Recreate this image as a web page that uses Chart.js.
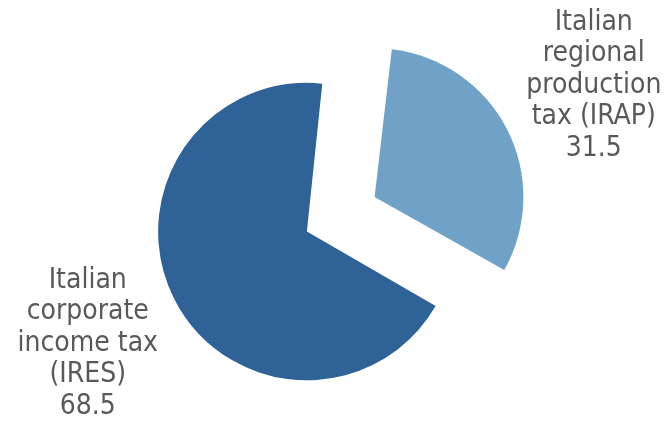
<!DOCTYPE html>
<html>
<head>
<meta charset="utf-8">
<script src="https://cdn.jsdelivr.net/npm/chart.js@4.4.1/dist/chart.umd.min.js"></script>
<style>
  html, body { margin: 0; padding: 0; background: #fff; }
  canvas { display: block; }
</style>
</head>
<body>
<canvas id="taxChart" width="666" height="423"></canvas>
<script>
// tax revenue split, per cent
const categories = [
  ["Italian", "regional", "production", "tax (IRAP)"],
  ["Italian", "corporate", "income tax", "(IRES)"]
];
const values = [31.5, 68.5];
const sliceColors = ["#6fa2c6", "#2f6296"];

const labelFont = "28px 'DejaVu Sans Condensed', 'DejaVu Sans', sans-serif";
const labelColor = "#595959";
const lineHeight = 31.5;

// writes the category name and its value outside each slice
const sliceLabels = {
  id: "sliceLabels",
  afterDatasetsDraw(chart) {
    const ctx = chart.ctx;
    const meta = chart.getDatasetMeta(0);
    ctx.save();
    ctx.font = labelFont;
    ctx.fillStyle = labelColor;
    ctx.textAlign = "center";
    ctx.textBaseline = "middle";
    meta.data.forEach((arc, i) => {
      const mid = (arc.startAngle + arc.endAngle) / 2;
      const shift = (arc.options.offset || 0) / 4;
      const cx = arc.x + Math.cos(mid) * shift;
      const cy = arc.y + Math.sin(mid) * shift;
      const dist = arc.outerRadius * 1.72;
      const lx = cx + Math.cos(mid) * dist;
      const ly = cy + Math.sin(mid) * dist;
      const lines = categories[i].concat([values[i].toFixed(1)]);
      const top = ly - (lines.length - 1) * lineHeight / 2;
      lines.forEach((txt, j) => {
        ctx.fillText(txt, lx, top + j * lineHeight);
      });
    });
    ctx.restore();
  }
};

new Chart(document.getElementById("taxChart"), {
  type: "pie",
  data: {
    labels: categories.map(c => c.join(" ")),
    datasets: [{
      data: values,
      backgroundColor: sliceColors,
      borderWidth: 0,
      offset: [281, 23]
    }]
  },
  options: {
    responsive: false,
    animation: false,
    rotation: 6.3,
    radius: 143,
    layout: { padding: { left: 0, right: 42, top: 35, bottom: 0 } },
    plugins: {
      legend: { display: false },
      tooltip: { enabled: false }
    }
  },
  plugins: [sliceLabels]
});
</script>
</body>
</html>
